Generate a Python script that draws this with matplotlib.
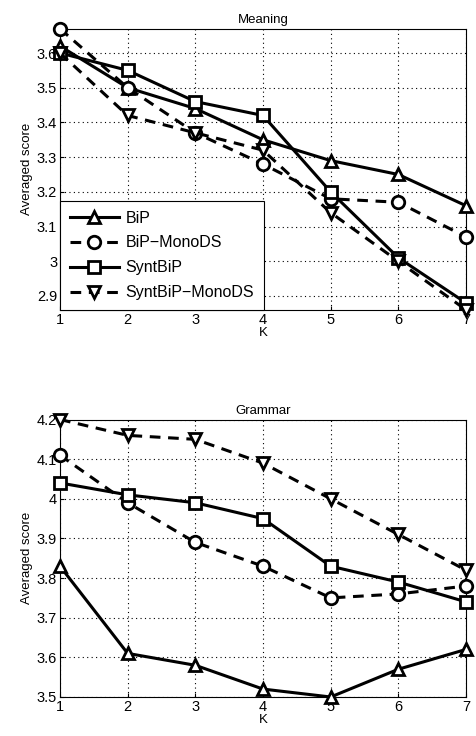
import matplotlib
matplotlib.use("Agg")
import matplotlib.pyplot as plt

plt.rcParams['font.family'] = ['Liberation Sans', 'DejaVu Sans']

k_values = [1, 2, 3, 4, 5, 6, 7]
series_names = ["BiP", "BiP\u2212MonoDS", "SyntBiP", "SyntBiP\u2212MonoDS"]

# Meaning scores
meaning_bip = [3.62, 3.50, 3.44, 3.35, 3.29, 3.25, 3.16]
meaning_bip_mono = [3.67, 3.50, 3.37, 3.28, 3.18, 3.17, 3.07]
meaning_synt = [3.60, 3.55, 3.46, 3.42, 3.20, 3.01, 2.88]
meaning_synt_mono = [3.60, 3.42, 3.37, 3.32, 3.14, 3.00, 2.86]

# Grammar scores
grammar_bip = [3.83, 3.61, 3.58, 3.52, 3.50, 3.57, 3.62]
grammar_bip_mono = [4.11, 3.99, 3.89, 3.83, 3.75, 3.76, 3.78]
grammar_synt = [4.04, 4.01, 3.99, 3.95, 3.83, 3.79, 3.74]
grammar_synt_mono = [4.20, 4.16, 4.15, 4.09, 4.00, 3.91, 3.82]

styles = [('^', '-'), ('o', '--'), ('s', '-'), ('v', '--')]


def draw_panel(ax, series, title, ylim, yticks, ylabels):
    for vals, name, (mk, ls) in zip(series, series_names, styles):
        ax.plot(k_values, vals, color='black', linestyle=ls, linewidth=2.2,
                marker=mk, markersize=9, markerfacecolor='white',
                markeredgecolor='black', markeredgewidth=2.0, label=name,
                clip_on=False, zorder=3, dashes=(3.5, 2.5) if ls == '--' else (None, None))
    ax.set_xlim(1, 7)
    ax.set_ylim(*ylim)
    ax.set_xticks(k_values)
    ax.set_yticks(yticks)
    ax.set_yticklabels(ylabels)
    ax.grid(True, color='black', linestyle=(0, (1, 3)), linewidth=0.8)
    ax.tick_params(direction='in', labelsize=10.5, pad=2, length=3)
    ax.set_title(title, fontsize=9.5, pad=4)
    ax.set_xlabel('K', fontsize=9.5, labelpad=0)
    ax.set_ylabel('Averaged score', fontsize=9.5, labelpad=3)
    for sp in ax.spines.values():
        sp.set_linewidth(0.8)


fig = plt.figure(figsize=(4.76, 7.36), dpi=100)
ax1 = fig.add_axes([0.126, 0.579, 0.853, 0.382])
ax2 = fig.add_axes([0.126, 0.053, 0.853, 0.377])

draw_panel(ax1, [meaning_bip, meaning_bip_mono, meaning_synt, meaning_synt_mono],
           'Meaning', (2.86, 3.67),
           [2.9, 3.0, 3.1, 3.2, 3.3, 3.4, 3.5, 3.6],
           ['2.9', '3', '3.1', '3.2', '3.3', '3.4', '3.5', '3.6'])
draw_panel(ax2, [grammar_bip, grammar_bip_mono, grammar_synt, grammar_synt_mono],
           'Grammar', (3.5, 4.2),
           [3.5, 3.6, 3.7, 3.8, 3.9, 4.0, 4.1, 4.2],
           ['3.5', '3.6', '3.7', '3.8', '3.9', '4', '4.1', '4.2'])

leg = ax1.legend(loc='lower left', fontsize=11.5, frameon=True, fancybox=False,
                 edgecolor='black', borderaxespad=0, handlelength=3.1,
                 borderpad=0.6, labelspacing=0.62, handletextpad=0.4,
                 framealpha=1)
leg.get_frame().set_linewidth(0.8)
leg.set_zorder(5)

fig.savefig('out.png', dpi=100)
